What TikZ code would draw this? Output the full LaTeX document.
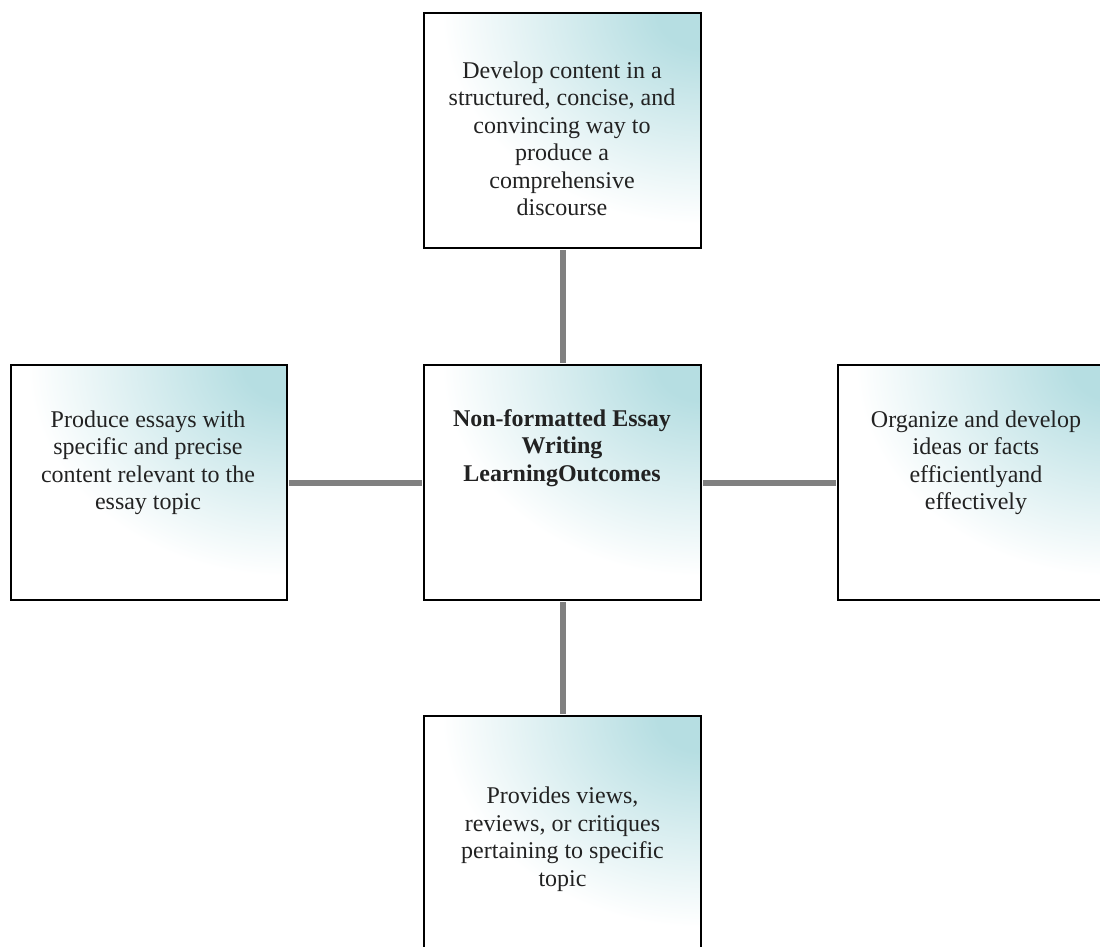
\documentclass[tikz,border=0pt]{standalone}
\usepackage{fontspec}
\setmainfont{Liberation Serif}
\definecolor{tealc}{HTML}{B6DEE2}
\definecolor{connc}{HTML}{808080}
\definecolor{txtc}{HTML}{222222}
\pgfdeclareradialshading{boxshade}{\pgfpoint{0bp}{0bp}}{color(0bp)=(tealc); color(2bp)=(tealc); color(12bp)=(white); color(50bp)=(white)}
\begin{document}
\begin{tikzpicture}[x=1bp,y=-1bp,
  box/.style={draw=black, line width=2.2bp, minimum width=277bp, minimum height=235bp, inner sep=0pt,
    path picture={\shade[shading=boxshade] (path picture bounding box.north east) ellipse (540bp and 440bp);}},
  lbl/.style={align=center, text=txtc, inner sep=0pt, font=\fontsize{24bp}{27.5bp}\selectfont},
  conn/.style={draw=connc, line width=6bp, shorten >=1.1bp, shorten <=1.1bp}]
\useasboundingbox (0,0) rectangle (1100,947);
\clip (0,0) rectangle (1100,947);
\node[box] (top) at (562.5,130.5) {};
\node[box] (mid) at (562.5,482.5) {};
\node[box, minimum width=276bp] (left) at (149,482.5) {};
\node[box] (right) at (976.5,482.5) {};
\node[box] (bot) at (562.5,833.5) {};
\draw[conn] (top.south) -- (mid.north);
\draw[conn] (mid.south) -- (bot.north);
\draw[conn] (left.east) -- (mid.west);
\draw[conn] (mid.east) -- (right.west);
\node[lbl] (ttop) at (562,139) {Develop content in a\\structured, concise, and\\convincing way to\\produce a\\comprehensive\\discourse};
\node[lbl, font=\fontsize{24bp}{27.5bp}\selectfont\bfseries] (tmid) at (562,448) {Non-formatted Essay\\Writing\\LearningOutcomes};
\node[lbl] (tleft) at (148,463) {Produce essays with\\specific and precise\\content relevant to the\\essay topic};
\node[lbl] (tright) at (976,463) {Organize and develop\\ideas or facts\\efficientlyand\\effectively};
\node[lbl] (tbot) at (562.5,839) {Provides views,\\reviews, or critiques\\pertaining to specific\\topic};
\end{tikzpicture}
\end{document}
